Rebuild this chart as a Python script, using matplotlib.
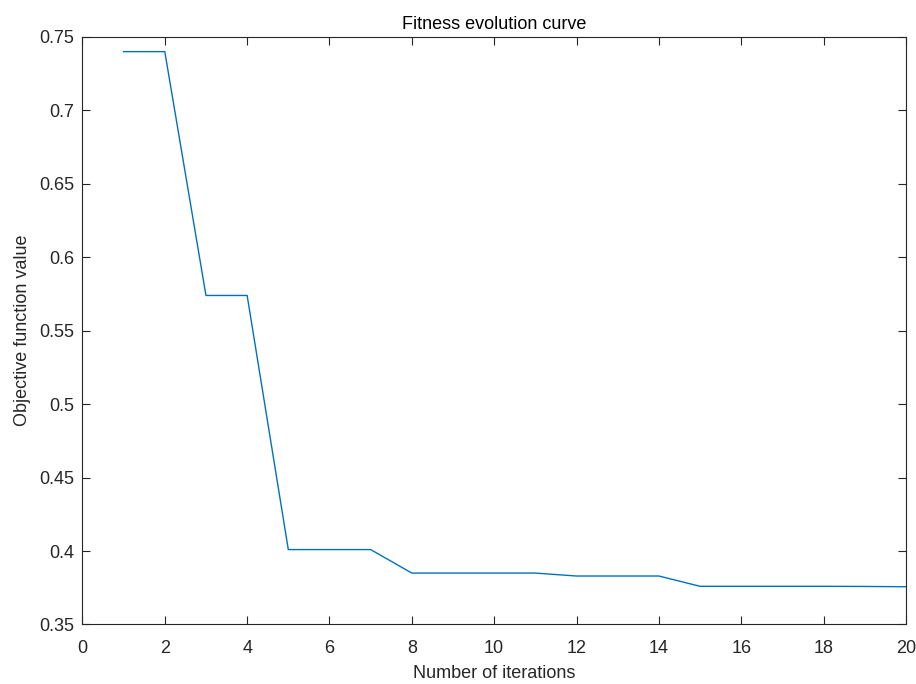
import numpy as np
import matplotlib
matplotlib.use('Agg')
import matplotlib.pyplot as plt
from matplotlib.ticker import FuncFormatter

# best fitness per iteration
iterations = list(range(1, 21))
fitness = [0.740, 0.740, 0.574, 0.574, 0.401, 0.401, 0.401, 0.385, 0.385, 0.385,
           0.385, 0.383, 0.383, 0.383, 0.376, 0.376, 0.376, 0.376, 0.3759, 0.3757]

x_ticks = list(range(0, 21, 2))
y_ticks = [0.35, 0.4, 0.45, 0.5, 0.55, 0.6, 0.65, 0.7, 0.75]

plt.rcParams['font.family'] = ['Liberation Sans', 'DejaVu Sans']
axis_col = '#262626'

fig = plt.figure(figsize=(9.16, 6.84), dpi=100)
ax = fig.add_axes([0.090, 0.087, 0.899, 0.859])

ax.plot(iterations, fitness, color='#0072BD', lw=1.0)

ax.set_xlim(0, 20)
ax.set_ylim(0.35, 0.75)
ax.set_xticks(x_ticks)
ax.set_yticks(y_ticks)
ax.yaxis.set_major_formatter(FuncFormatter(lambda v, p: '%g' % round(v, 4)))

ax.tick_params(direction='in', length=5.5, width=0.8, colors=axis_col,
               labelsize=13, top=True, right=True, pad=6)
ax.tick_params(axis='x', pad=11)
for s in ax.spines.values():
    s.set_color(axis_col)
    s.set_linewidth(0.8)

ax.set_title('Fitness evolution curve', fontsize=13, color='black', pad=6)
ax.set_xlabel('Number of iterations', fontsize=13, color=axis_col, labelpad=6)
ax.set_ylabel('Objective function value', fontsize=13, color=axis_col, labelpad=6)

fig.savefig('out.png', dpi=100)
